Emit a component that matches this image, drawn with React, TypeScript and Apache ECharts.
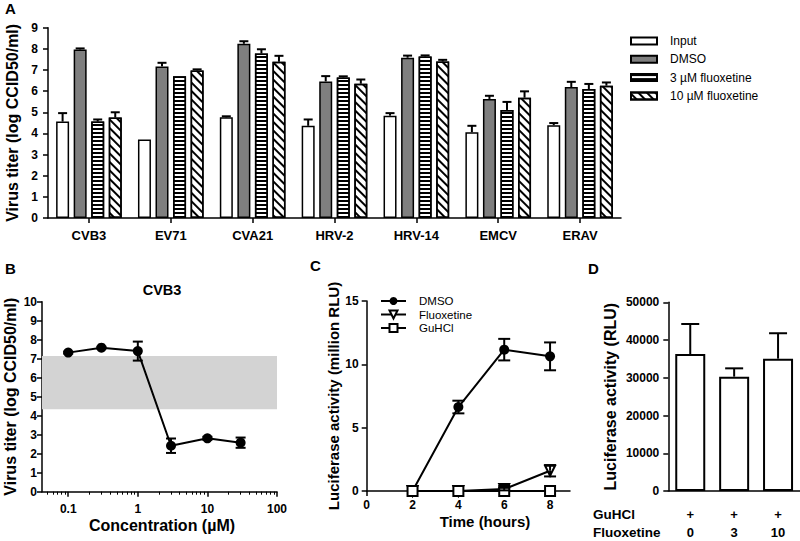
import React, { useEffect, useRef } from 'react';
import * as echarts from 'echarts';

const FONT = '"Liberation Sans", Arial, Helvetica, sans-serif';

// ---------- Panel A ----------
const categoriesA = ['CVB3', 'EV71', 'CVA21', 'HRV-2', 'HRV-14', 'EMCV', 'ERAV'];
const seriesNamesA = ['Input', 'DMSO', '3 µM fluoxetine', '10 µM fluoxetine'];
const inputVals = [4.56, 3.71, 4.76, 4.36, 4.84, 4.06, 4.39];
const inputErr = [0.4, 0, 0.05, 0.3, 0.12, 0.3, 0.1];
const dmsoVals = [7.97, 7.17, 8.24, 6.46, 7.58, 5.63, 6.19];
const dmsoErr = [0.05, 0.17, 0.12, 0.25, 0.1, 0.15, 0.25];
const fluox3Vals = [4.56, 6.7, 7.78, 6.65, 7.64, 5.11, 6.1];
const fluox3Err = [0.1, 0, 0.2, 0.05, 0.05, 0.38, 0.24];
const fluox10Vals = [4.75, 6.98, 7.39, 6.35, 7.4, 5.69, 6.26];
const fluox10Err = [0.25, 0.05, 0.28, 0.2, 0.08, 0.3, 0.15];

// ---------- Panel B ----------
const concB = [0.1, 0.3, 1, 3, 10, 30];
const titerB = [7.32, 7.58, 7.4, 2.42, 2.81, 2.58];
const titerBErr = [0.05, 0.05, 0.5, 0.38, 0.08, 0.27];
const bandB = [4.34, 7.14];
const majorTicksB = [0.1, 1, 10, 100];
const minorTicksB = [0.05, 0.06, 0.07, 0.08, 0.09, 0.2, 0.3, 0.4, 0.5, 0.6, 0.7, 0.8, 0.9, 2, 3, 4, 5, 6, 7, 8, 9, 20, 30, 40, 50, 60, 70, 80, 90];

// ---------- Panel C ----------
const timeC = [2, 4, 6, 8];
const dmsoC = [0, 6.63, 11.16, 10.63];
const dmsoCErr = [0, 0.5, 0.85, 1.1];
const fluoxC = [0, 0, 0.15, 1.6];
const fluoxCErr = [0, 0, 0.1, 0.45];
const guhclC = [0, 0, 0, 0];
const ticksC = [0, 2, 4, 6, 8];

// ---------- Panel D ----------
const fluoxD = ['0', '3', '10'];
const guhclD = ['+', '+', '+'];
const lucD = [36300, 30300, 35070];
const lucDErr = [7950, 2200, 6730];

const errRender = (offset: number, cap: number, both: boolean) => (params: any, api: any) => {
  const xv = api.value(0);
  const yv = api.value(1);
  const ev = api.value(2);
  if (!ev) return null;
  const c = api.coord([xv, yv]);
  const t = api.coord([xv, yv + ev]);
  const x = c[0] + offset;
  const style = { stroke: '#000', lineWidth: 2 };
  const children: any[] = [
    { type: 'line', shape: { x1: x, y1: c[1], x2: x, y2: t[1] }, style },
    { type: 'line', shape: { x1: x - cap, y1: t[1], x2: x + cap, y2: t[1] }, style },
  ];
  if (both) {
    const b = api.coord([xv, yv - ev]);
    children.push({ type: 'line', shape: { x1: x, y1: c[1], x2: x, y2: b[1] }, style });
    children.push({ type: 'line', shape: { x1: x - cap, y1: b[1], x2: x + cap, y2: b[1] }, style });
  }
  return { type: 'group', children };
};

const axisLine = { show: true, lineStyle: { color: '#000', width: 1.5 } };
const tickStyle = { color: '#000', width: 1.5 };
const labelBase = { color: '#000', fontFamily: FONT, fontWeight: 'bold' as const, fontSize: 12 };
const nameStyle = (size: number) => ({ color: '#000', fontFamily: FONT, fontWeight: 'bold' as const, fontSize: size });

function buildOption(): any {
  const aVals = [inputVals, dmsoVals, fluox3Vals, fluox10Vals];
  const aErrs = [inputErr, dmsoErr, fluox3Err, fluox10Err];
  const barW = 13;
  const gap = barW * 0.35;
  const aStyles: any[] = [
    { color: '#fff' },
    { color: '#7f7f7f' },
    { color: '#fff', decal: { symbol: 'rect', symbolSize: 1, dashArrayX: [1, 0], dashArrayY: [1.5, 2], color: '#000', rotation: 0 } },
    { color: '#fff', decal: { symbol: 'rect', symbolSize: 1, dashArrayX: [1, 0], dashArrayY: [2, 3.5], color: '#000', rotation: Math.PI / 4 } },
  ];

  const series: any[] = [];
  seriesNamesA.forEach((name, k) => {
    series.push({
      type: 'bar', name, xAxisIndex: 0, yAxisIndex: 0,
      data: aVals[k], barWidth: barW, barGap: '35%',
      itemStyle: { ...aStyles[k], borderColor: '#000', borderWidth: 1.5 },
      z: 2,
    });
  });
  seriesNamesA.forEach((name, k) => {
    series.push({
      type: 'custom', name: name + '_err', xAxisIndex: 0, yAxisIndex: 0,
      renderItem: errRender((k - 1.5) * (barW + gap), 4.5, false),
      data: categoriesA.map((_, i) => [i, aVals[k][i], aErrs[k][i]]),
      encode: { x: 0, y: 1 }, z: 3, silent: true,
    });
  });

  // Panel B
  series.push({
    type: 'line', name: 'CVB3', xAxisIndex: 1, yAxisIndex: 1,
    data: concB.map((c, i) => [c, titerB[i]]),
    symbol: 'circle', symbolSize: 10,
    itemStyle: { color: '#000' }, lineStyle: { color: '#000', width: 2 },
    markArea: {
      silent: true,
      itemStyle: { color: '#d3d3d3' },
      data: [[{ yAxis: bandB[0] }, { yAxis: bandB[1] }]],
    },
    z: 3,
  });
  series.push({
    type: 'custom', name: 'CVB3_err', xAxisIndex: 1, yAxisIndex: 1,
    renderItem: errRender(0, 5, true),
    data: concB.map((c, i) => [c, titerB[i], titerBErr[i]]),
    encode: { x: 0, y: 1 }, z: 4, silent: true,
  });

  // Panel C
  series.push({
    type: 'line', name: 'DMSO_C', xAxisIndex: 3, yAxisIndex: 2,
    data: timeC.map((t, i) => [t, dmsoC[i]]),
    symbol: 'circle', symbolSize: 10,
    itemStyle: { color: '#000' }, lineStyle: { color: '#000', width: 2 }, z: 3,
  });
  series.push({
    type: 'line', name: 'Fluoxetine', xAxisIndex: 3, yAxisIndex: 2,
    data: timeC.map((t, i) => [t, fluoxC[i]]),
    symbol: 'triangle', symbolRotate: 180, symbolSize: 10,
    itemStyle: { color: '#fff', borderColor: '#000', borderWidth: 2 },
    lineStyle: { color: '#000', width: 2 }, z: 4,
  });
  series.push({
    type: 'line', name: 'GuHCl', xAxisIndex: 3, yAxisIndex: 2,
    data: timeC.map((t, i) => [t, guhclC[i]]),
    symbol: 'rect', symbolSize: 10,
    itemStyle: { color: '#fff', borderColor: '#000', borderWidth: 2 },
    lineStyle: { color: '#000', width: 2 }, z: 5,
  });
  series.push({
    type: 'custom', name: 'DMSO_C_err', xAxisIndex: 3, yAxisIndex: 2,
    renderItem: errRender(0, 6, true),
    data: timeC.map((t, i) => [t, dmsoC[i], dmsoCErr[i]]),
    encode: { x: 0, y: 1 }, z: 6, silent: true,
  });
  series.push({
    type: 'custom', name: 'Fluox_C_err', xAxisIndex: 3, yAxisIndex: 2,
    renderItem: errRender(0, 6, true),
    data: timeC.map((t, i) => [t, fluoxC[i], fluoxCErr[i]]),
    encode: { x: 0, y: 1 }, z: 6, silent: true,
  });

  // Panel D
  series.push({
    type: 'bar', name: 'Luciferase', xAxisIndex: 4, yAxisIndex: 3,
    data: lucD, barWidth: 30,
    itemStyle: { color: '#fff', borderColor: '#000', borderWidth: 2 }, z: 2,
  });
  series.push({
    type: 'custom', name: 'Luciferase_err', xAxisIndex: 4, yAxisIndex: 3,
    renderItem: errRender(0, 9, false),
    data: fluoxD.map((_, i) => [i, lucD[i], lucDErr[i]]),
    encode: { x: 0, y: 1 }, z: 3, silent: true,
  });

  const gridBase = { containLabel: false, outerBoundsMode: 'none', show: false };
  const txt = (x: number, y: number, text: string, size: number, align: string = 'left') => ({
    type: 'text', x, y, silent: true,
    style: { text, font: `bold ${size}px ${FONT}`, fill: '#000', align, verticalAlign: 'middle' },
  });

  return {
    animation: false,
    backgroundColor: '#fff',
    textStyle: { fontFamily: FONT },
    grid: [
      { ...gridBase, left: 48, top: 27.7, width: 573, height: 190.3 },
      { ...gridBase, left: 42, top: 301.7, width: 235, height: 190 },
      { ...gridBase, left: 366.7, top: 301, width: 203.3, height: 190 },
      { ...gridBase, left: 668.3, top: 302.3, width: 131.7, height: 188.7 },
    ],
    xAxis: [
      {
        type: 'category', gridIndex: 0, data: categoriesA, position: 'bottom',
        axisLine, axisTick: { show: true, alignWithLabel: true, length: 5, lineStyle: tickStyle },
        axisLabel: { ...labelBase, fontSize: 13, margin: 11, interval: 0 },
        splitLine: { show: false },
      },
      {
        type: 'log', gridIndex: 1, logBase: 10, min: 0.042, max: 100, position: 'bottom',
        axisLine,
        axisTick: { show: true, length: 5, lineStyle: tickStyle, customValues: majorTicksB },
        axisLabel: { ...labelBase, margin: 11, customValues: majorTicksB, formatter: (v: number) => String(v) },
        splitLine: { show: false },
      },
      {
        type: 'log', gridIndex: 1, logBase: 10, min: 0.042, max: 100, position: 'bottom',
        axisLine: { show: false },
        axisTick: { show: true, length: 3, lineStyle: { color: '#000', width: 1 }, customValues: minorTicksB },
        axisLabel: { show: false },
        splitLine: { show: false },
      },
      {
        type: 'value', gridIndex: 2, min: 0, max: 8.87, position: 'bottom',
        axisLine,
        axisTick: { show: true, length: 5, lineStyle: tickStyle, customValues: ticksC },
        axisLabel: { ...labelBase, margin: 8, customValues: ticksC },
        splitLine: { show: false },
      },
      {
        type: 'category', gridIndex: 3, data: fluoxD, position: 'bottom',
        axisLine, axisTick: { show: false },
        axisLabel: {
          ...labelBase, fontSize: 13, margin: 14, lineHeight: 18, interval: 0,
          formatter: (v: string, i: number) => `${guhclD[i]}\n${v}`,
        },
        splitLine: { show: false },
      },
    ],
    yAxis: [
      {
        type: 'value', gridIndex: 0, min: 0, max: 9, interval: 1,
        axisLine, axisTick: { show: true, length: 5, lineStyle: tickStyle },
        axisLabel: { ...labelBase, margin: 10 }, splitLine: { show: false },
        name: 'Virus titer (log CCID50/ml)', nameLocation: 'middle', nameGap: 25, nameTextStyle: nameStyle(16),
      },
      {
        type: 'value', gridIndex: 1, min: 0, max: 10, interval: 1,
        axisLine, axisTick: { show: true, length: 5, lineStyle: tickStyle },
        axisLabel: { ...labelBase, margin: 5 }, splitLine: { show: false },
        name: 'Virus titer (log CCID50/ml)', nameLocation: 'middle', nameGap: 24, nameTextStyle: nameStyle(16),
      },
      {
        type: 'value', gridIndex: 2, min: 0, max: 15, interval: 5,
        axisLine, axisTick: { show: true, length: 5, lineStyle: tickStyle },
        axisLabel: { ...labelBase, margin: 8 }, splitLine: { show: false },
        name: 'Luciferase activity (million RLU)', nameLocation: 'middle', nameGap: 24, nameTextStyle: nameStyle(15),
      },
      {
        type: 'value', gridIndex: 3, min: 0, max: 50000, interval: 10000,
        axisLine, axisTick: { show: true, length: 5, lineStyle: tickStyle },
        axisLabel: { ...labelBase, margin: 9, formatter: (v: number) => String(v) }, splitLine: { show: false },
        name: 'Luciferase activity (RLU)', nameLocation: 'middle', nameGap: 50, nameTextStyle: nameStyle(16),
      },
    ],
    legend: [
      {
        orient: 'vertical', left: 630, top: 35, padding: 0, itemWidth: 26, itemHeight: 7, itemGap: 6.3,
        icon: 'rect', selectedMode: false,
        data: seriesNamesA,
        textStyle: { color: '#000', fontFamily: FONT, fontSize: 12, lineHeight: 12, padding: [0, 0, 0, 8] },
      },
      {
        orient: 'vertical', left: 380, top: 295, padding: 0, itemWidth: 25, itemHeight: 10, itemGap: 1.5,
        selectedMode: false,
        data: ['DMSO_C', 'Fluoxetine', 'GuHCl'],
        formatter: (n: string) => n.replace('_C', ''),
        textStyle: { color: '#000', fontFamily: FONT, fontSize: 11.5, lineHeight: 12, padding: [0, 0, 0, 8] },
      },
    ],
    graphic: [
      txt(5, 8, 'A', 15),
      txt(5, 268, 'B', 15),
      txt(310, 265, 'C', 15),
      txt(588, 268, 'D', 15),
      txt(162, 290, 'CVB3', 14.5, 'center'),
      txt(162, 525, 'Concentration (µM)', 16, 'center'),
      txt(485, 521, 'Time (hours)', 15, 'center'),
      txt(593, 514, 'GuHCl', 13.5),
      txt(593, 532, 'Fluoxetine', 13.5),
    ],
    series,
  };
}

export default function App() {
  const ref = useRef<HTMLDivElement>(null);
  useEffect(() => {
    document.body.style.margin = '0';
    const chart = echarts.init(ref.current!, null, { renderer: 'svg' });
    chart.setOption(buildOption());
    return () => chart.dispose();
  }, []);
  return <div ref={ref} style={{ width: 800, height: 541 }} />;
}
